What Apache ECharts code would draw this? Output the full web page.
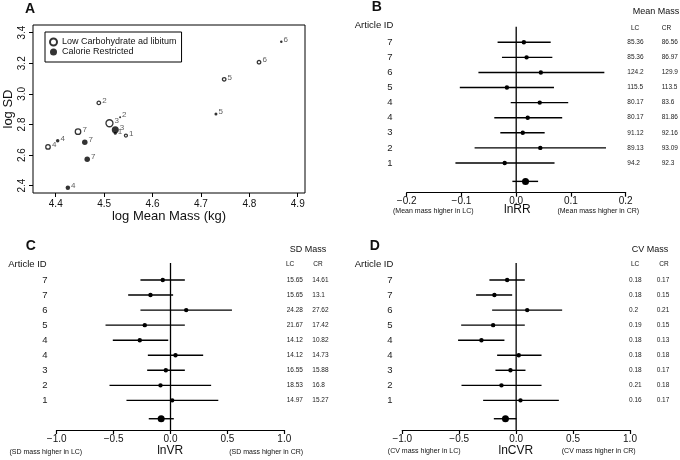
<!DOCTYPE html>
<html><head><meta charset="utf-8">
<script src="https://cdn.jsdelivr.net/npm/echarts@6/dist/echarts.min.js"></script>
<style>html,body{margin:0;padding:0;background:#fff}#c{width:680px;height:460px}</style>
</head><body><div id="c"></div>
<script>
// ---------- Panel A data (log mean mass vs log SD) ----------
const lcIds = ['1','2','3','4','5','6','7'];
const lcLogMean = [4.545, 4.489, 4.511, 4.384, 4.748, 4.820, 4.446];
const lcLogSd   = [2.727, 2.941, 2.808, 2.653, 3.095, 3.207, 2.753];
const lcWeight  = [3, 3.5, 7, 4.5, 3.5, 3.5, 5.5];
const crIds = ['1','2','3','4','4','5','6','7','7'];
const crLogMean = [4.523, 4.533, 4.523, 4.404, 4.425, 4.731, 4.866, 4.460, 4.465];
const crLogSd   = [2.742, 2.847, 2.766, 2.694, 2.387, 2.869, 3.341, 2.684, 2.573];
const crWeight  = [3, 2, 7, 3.5, 4.5, 3, 2.5, 5.5, 5.5];
const aXTicks = [4.4, 4.5, 4.6, 4.7, 4.8, 4.9];
const aYTicks = [2.4, 2.6, 2.8, 3.0, 3.2, 3.4];

// ---------- Forest plots (rows top to bottom) ----------
const articleIds = ['7','7','6','5','4','4','3','2','1'];
const rrEst = [0.014, 0.019, 0.045, -0.017, 0.043, 0.021, 0.012, 0.044, -0.021];
const rrLo  = [-0.034, -0.026, -0.069, -0.103, -0.010, -0.040, -0.029, -0.076, -0.111];
const rrHi  = [0.063, 0.066, 0.161, 0.069, 0.095, 0.084, 0.052, 0.164, 0.070];
const rrSummary = [0.017, -0.007, 0.040]; // est, lo, hi
const meanLC = ['85.36','85.36','124.2','115.5','80.17','80.17','91.12','89.13','94.2'];
const meanCR = ['86.56','86.97','129.9','113.5','83.6','81.86','92.16','93.09','92.3'];

const vrEst = [-0.068, -0.176, 0.138, -0.226, -0.270, 0.044, -0.041, -0.088, 0.015];
const vrLo  = [-0.264, -0.372, -0.264, -0.571, -0.507, -0.199, -0.205, -0.536, -0.387];
const vrHi  = [0.126, 0.023, 0.540, 0.126, -0.020, 0.287, 0.126, 0.357, 0.420];
const vrSummary = [-0.082, -0.191, 0.029];
const sdLC = ['15.65','15.65','24.28','21.67','14.12','14.12','16.55','18.53','14.97'];
const sdCR = ['14.61','13.1','27.62','17.42','10.82','14.73','15.88','16.8','15.27'];

const cvrEst = [-0.079, -0.191, 0.097, -0.202, -0.305, 0.023, -0.050, -0.129, 0.038];
const cvrLo  = [-0.235, -0.352, -0.211, -0.483, -0.510, -0.167, -0.182, -0.480, -0.290];
const cvrHi  = [0.076, -0.035, 0.404, 0.076, -0.103, 0.223, 0.082, 0.223, 0.375];
const cvrSummary = [-0.094, -0.196, 0.003];
const cvLC = ['0.18','0.18','0.2','0.19','0.18','0.18','0.18','0.21','0.16'];
const cvCR = ['0.17','0.15','0.21','0.15','0.13','0.18','0.17','0.18','0.17'];

// ---------- build ----------
const FONT = 'Liberation Sans';
const SUMMARY_POS = -0.22;
const fmtMinus = v => (Math.abs(v) < 1e-9 ? 0 : v).toFixed(1).replace('-', '\u2212');

function forestSeries(axisIdx, est, lo, hi, summ, lcTxt, crTxt, cfg) {
  const n = est.length;
  const data = est.map((e, i) => [lo[i], hi[i], e, n - i, i]);
  data.push([summ[1], summ[2], summ[0], SUMMARY_POS, -1]);
  return {
    type: 'custom', xAxisIndex: axisIdx, yAxisIndex: axisIdx, clip: false, silent: true,
    encode: { x: [0, 1, 2], y: 3 },
    data: data,
    renderItem: function (params, api) {
      const pos = api.value(3), idx = api.value(4);
      const a = api.coord([api.value(0), pos]);
      const b = api.coord([api.value(1), pos]);
      const e = api.coord([api.value(2), pos]);
      const ch = [
        { type: 'line', shape: { x1: a[0], y1: a[1], x2: b[0], y2: b[1] }, style: { stroke: '#000', lineWidth: 1.4 } },
        { type: 'circle', shape: { cx: e[0], cy: e[1], r: idx < 0 ? 3.5 : 2.2 }, style: { fill: '#000' } }
      ];
      if (idx >= 0) {
        const t = (x, s, al, fs) => ({ type: 'text', x: x, y: e[1], style: { text: s, fontSize: fs, fill: '#222', align: al, verticalAlign: 'middle', fontFamily: FONT } });
        ch.push(t(cfg.idX, articleIds[idx], 'center', 9.5));
        ch.push(t(cfg.lcX, lcTxt[idx], 'left', 6.5));
        ch.push(t(cfg.crX, crTxt[idx], 'left', 6.5));
      }
      return { type: 'group', children: ch };
    }
  };
}
function zeroLine(axisIdx, ymin, ymax) {
  return { type: 'line', xAxisIndex: axisIdx, yAxisIndex: axisIdx, silent: true, symbol: 'none',
    data: [[0, ymin], [0, ymax]], lineStyle: { color: '#000', width: 1.3 }, z: 1 };
}
function forestX(gi, mn, mx, iv) {
  return { type: 'value', gridIndex: gi, min: mn, max: mx, interval: iv,
    axisLine: { show: true, onZero: false, lineStyle: { color: '#000', width: 1.2 } },
    axisTick: { show: true, length: 4, lineStyle: { color: '#000', width: 1.2 } },
    axisLabel: { fontSize: 10, margin: 4, color: '#111', formatter: fmtMinus, fontFamily: FONT },
    splitLine: { show: false } };
}
function forestY(gi, mn, mx) {
  return { type: 'value', gridIndex: gi, min: mn, max: mx, show: false, splitLine: { show: false } };
}
function txt(x, y, s, fs, align, bold, rot) {
  return { type: 'text', x: x, y: y, rotation: rot || 0, silent: true,
    style: { text: s, fontSize: fs, fill: '#111', align: align || 'center', verticalAlign: 'middle',
      fontWeight: bold ? 'bold' : 'normal', fontFamily: FONT } };
}

const chart = echarts.init(document.getElementById('c'), null, { renderer: 'canvas' });
const option = {
  animation: false,
  textStyle: { fontFamily: FONT },
  grid: [
    { left: 33, top: 25, width: 272, height: 168, show: true, borderColor: '#000', borderWidth: 1, backgroundColor: 'transparent' },
    { left: 406.7, top: 26.7, width: 219, height: 166 },
    { left: 56.7, top: 263, width: 227.6, height: 167 },
    { left: 402.3, top: 263, width: 227.7, height: 167 }
  ],
  xAxis: [
    { type: 'value', gridIndex: 0, min: 4.353, max: 4.915,
      axisLine: { show: false }, splitLine: { show: false },
      axisTick: { show: true, length: 4, customValues: aXTicks, lineStyle: { color: '#000' } },
      axisLabel: { customValues: aXTicks, fontSize: 10, margin: 6, color: '#111', formatter: v => v.toFixed(1) },
      name: 'log Mean Mass (kg)', nameLocation: 'middle', nameGap: 16,
      nameTextStyle: { fontSize: 13, color: '#111', verticalAlign: 'top' } },
    forestX(1, -0.2, 0.2, 0.1),
    forestX(2, -1, 1, 0.5),
    forestX(3, -1, 1, 0.5)
  ],
  yAxis: [
    { type: 'value', gridIndex: 0, min: 2.352, max: 3.45,
      axisLine: { show: false }, splitLine: { show: false },
      axisTick: { show: true, length: 4, customValues: aYTicks, lineStyle: { color: '#000' } },
      axisLabel: { customValues: aYTicks, rotate: 90, fontSize: 10, margin: 6, color: '#111', formatter: v => v.toFixed(1) },
      name: 'log SD', nameLocation: 'middle', nameGap: 18,
      nameTextStyle: { fontSize: 13, color: '#111' } },
    forestY(1, -0.97, 10.03),
    forestY(2, -0.969, 10.13),
    forestY(3, -0.969, 10.13)
  ],
  legend: {
    data: ['Low Carbohydrate ad libitum', 'Calorie Restricted'],
    left: 45, top: 32, orient: 'vertical', selectedMode: false,
    itemWidth: 7, itemHeight: 7, itemGap: 0, padding: [5, 5, 5, 4],
    borderColor: '#000', borderWidth: 1, borderRadius: 0, backgroundColor: '#fff',
    textStyle: { fontSize: 9, color: '#111', lineHeight: 10, fontFamily: FONT }
  },
  series: [
    { type: 'scatter', name: 'Low Carbohydrate ad libitum', xAxisIndex: 0, yAxisIndex: 0, symbol: 'circle',
      data: lcIds.map((id, i) => [lcLogMean[i], lcLogSd[i], id, lcWeight[i]]),
      symbolSize: v => v[3],
      itemStyle: { color: '#fff', borderColor: '#000', borderWidth: 1.3 },
      label: { show: true, position: 'right', distance: 1, offset: [0, -2], formatter: p => p.value[2], fontSize: 8, color: '#333' } },
    { type: 'scatter', name: 'Calorie Restricted', xAxisIndex: 0, yAxisIndex: 0, symbol: 'circle',
      data: crIds.map((id, i) => [crLogMean[i], crLogSd[i], id, crWeight[i]]),
      symbolSize: v => v[3],
      itemStyle: { color: '#000' },
      label: { show: true, position: 'right', distance: 1, offset: [0, -2], formatter: p => p.value[2], fontSize: 8, color: '#333' } },
    zeroLine(1, -0.97, 10.03),
    zeroLine(2, -0.969, 10.13),
    zeroLine(3, -0.969, 10.13),
    forestSeries(1, rrEst, rrLo, rrHi, rrSummary, meanLC, meanCR, { idX: 390, lcX: 627.3, crX: 661.7 }),
    forestSeries(2, vrEst, vrLo, vrHi, vrSummary, sdLC, sdCR, { idX: 45, lcX: 286.7, crX: 312.3 }),
    forestSeries(3, cvrEst, cvrLo, cvrHi, cvrSummary, cvLC, cvCR, { idX: 390, lcX: 629, crX: 656.7 })
  ],
  graphic: [
    txt(30, 8.7, 'A', 14, 'center', true),
    txt(376.7, 7.2, 'B', 14, 'center', true),
    txt(30.8, 245.8, 'C', 14, 'center', true),
    txt(374.7, 245.8, 'D', 14, 'center', true),
    txt(393.3, 25, 'Article ID', 9.5, 'right'),
    txt(46.7, 264.3, 'Article ID', 9.5, 'right'),
    txt(393.3, 264.3, 'Article ID', 9.5, 'right'),
    txt(656, 11.7, 'Mean Mass', 9),
    txt(308, 250, 'SD Mass', 9),
    txt(650, 250, 'CV Mass', 9),
    txt(631, 28.3, 'LC', 6.5, 'left'), txt(661.7, 28.3, 'CR', 6.5, 'left'),
    txt(286, 264.3, 'LC', 6.5, 'left'), txt(313.3, 264.3, 'CR', 6.5, 'left'),
    txt(631, 264.3, 'LC', 6.5, 'left'), txt(659.3, 264.3, 'CR', 6.5, 'left'),
    txt(433.3, 210.7, '(Mean mass higher in LC)', 7),
    txt(517.3, 210, 'lnRR', 12),
    txt(598.3, 210.7, '(Mean mass higher in CR)', 7),
    txt(45.8, 451.7, '(SD mass higher in LC)', 7),
    txt(170.2, 451, 'lnVR', 12),
    txt(266.2, 451.7, '(SD mass higher in CR)', 7),
    txt(424.2, 451, '(CV mass higher in LC)', 7),
    txt(515.8, 451, 'lnCVR', 12),
    txt(598.7, 451, '(CV mass higher in CR)', 7)
  ]
};
chart.setOption(option);
</script>
</body></html>
